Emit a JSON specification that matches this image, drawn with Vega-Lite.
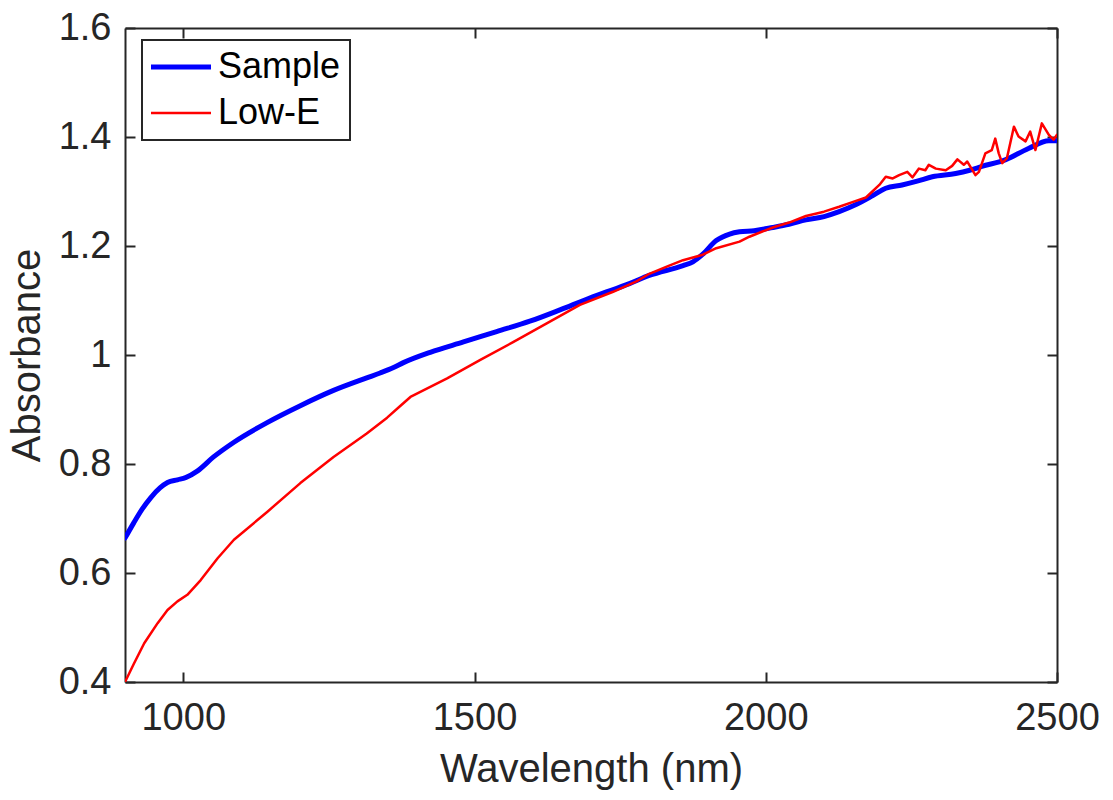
{
  "$schema": "https://vega.github.io/schema/vega-lite/v6.json",
  "width": 932,
  "height": 654,
  "autosize": {"type": "none"},
  "padding": {"left": 125, "top": 28, "right": 56, "bottom": 118},
  "background": "white",
  "config": {
    "view": {"stroke": null},
    "font": "Liberation Sans",
    "axis": {
      "labelFont": "Liberation Sans",
      "titleFont": "Liberation Sans",
      "labelFontSize": 38,
      "titleFontSize": 40,
      "labelColor": "#262626",
      "titleColor": "#262626",
      "titleFontWeight": "normal",
      "domainColor": "#262626",
      "domainWidth": 2,
      "tickColor": "#262626",
      "tickWidth": 2,
      "tickSize": -10,
      "grid": false
    },
    "legend": {
      "labelFont": "Liberation Sans",
      "strokeColor": "#262626",
      "strokeWidth": 2
    }
  },
  "datasets": {
    "spectra": [
      {"series": "Sample", "w": 900, "a": 0.664},
      {"series": "Sample", "w": 915, "a": 0.692},
      {"series": "Sample", "w": 930, "a": 0.718},
      {"series": "Sample", "w": 944, "a": 0.738},
      {"series": "Sample", "w": 960, "a": 0.756},
      {"series": "Sample", "w": 973, "a": 0.766},
      {"series": "Sample", "w": 990, "a": 0.771},
      {"series": "Sample", "w": 1004, "a": 0.775},
      {"series": "Sample", "w": 1024, "a": 0.787},
      {"series": "Sample", "w": 1052, "a": 0.813},
      {"series": "Sample", "w": 1087, "a": 0.840},
      {"series": "Sample", "w": 1144, "a": 0.876},
      {"series": "Sample", "w": 1201, "a": 0.907},
      {"series": "Sample", "w": 1258, "a": 0.935},
      {"series": "Sample", "w": 1315, "a": 0.958},
      {"series": "Sample", "w": 1338, "a": 0.967},
      {"series": "Sample", "w": 1361, "a": 0.977},
      {"series": "Sample", "w": 1378, "a": 0.986},
      {"series": "Sample", "w": 1424, "a": 1.005},
      {"series": "Sample", "w": 1481, "a": 1.024},
      {"series": "Sample", "w": 1538, "a": 1.043},
      {"series": "Sample", "w": 1595, "a": 1.062},
      {"series": "Sample", "w": 1652, "a": 1.085},
      {"series": "Sample", "w": 1709, "a": 1.109},
      {"series": "Sample", "w": 1766, "a": 1.131},
      {"series": "Sample", "w": 1800, "a": 1.146},
      {"series": "Sample", "w": 1858, "a": 1.164},
      {"series": "Sample", "w": 1875, "a": 1.171},
      {"series": "Sample", "w": 1892, "a": 1.185},
      {"series": "Sample", "w": 1915, "a": 1.210},
      {"series": "Sample", "w": 1938, "a": 1.222},
      {"series": "Sample", "w": 1955, "a": 1.226},
      {"series": "Sample", "w": 1980, "a": 1.228},
      {"series": "Sample", "w": 2012, "a": 1.234},
      {"series": "Sample", "w": 2040, "a": 1.240},
      {"series": "Sample", "w": 2069, "a": 1.248},
      {"series": "Sample", "w": 2100, "a": 1.254},
      {"series": "Sample", "w": 2126, "a": 1.263},
      {"series": "Sample", "w": 2155, "a": 1.276},
      {"series": "Sample", "w": 2183, "a": 1.292},
      {"series": "Sample", "w": 2206, "a": 1.306},
      {"series": "Sample", "w": 2234, "a": 1.312},
      {"series": "Sample", "w": 2260, "a": 1.319},
      {"series": "Sample", "w": 2286, "a": 1.327},
      {"series": "Sample", "w": 2326, "a": 1.333},
      {"series": "Sample", "w": 2350, "a": 1.339},
      {"series": "Sample", "w": 2371, "a": 1.346},
      {"series": "Sample", "w": 2411, "a": 1.358},
      {"series": "Sample", "w": 2451, "a": 1.379},
      {"series": "Sample", "w": 2486, "a": 1.393},
      {"series": "Sample", "w": 2500, "a": 1.393},
      {"series": "Low-E", "w": 900, "a": 0.400},
      {"series": "Low-E", "w": 915, "a": 0.433},
      {"series": "Low-E", "w": 933, "a": 0.471},
      {"series": "Low-E", "w": 956, "a": 0.508},
      {"series": "Low-E", "w": 973, "a": 0.532},
      {"series": "Low-E", "w": 990, "a": 0.548},
      {"series": "Low-E", "w": 1007, "a": 0.560},
      {"series": "Low-E", "w": 1030, "a": 0.587},
      {"series": "Low-E", "w": 1059, "a": 0.627},
      {"series": "Low-E", "w": 1087, "a": 0.661},
      {"series": "Low-E", "w": 1144, "a": 0.712},
      {"series": "Low-E", "w": 1201, "a": 0.765},
      {"series": "Low-E", "w": 1258, "a": 0.813},
      {"series": "Low-E", "w": 1315, "a": 0.856},
      {"series": "Low-E", "w": 1350, "a": 0.885},
      {"series": "Low-E", "w": 1372, "a": 0.906},
      {"series": "Low-E", "w": 1390, "a": 0.923},
      {"series": "Low-E", "w": 1453, "a": 0.957},
      {"series": "Low-E", "w": 1510, "a": 0.991},
      {"series": "Low-E", "w": 1567, "a": 1.024},
      {"series": "Low-E", "w": 1624, "a": 1.058},
      {"series": "Low-E", "w": 1681, "a": 1.092},
      {"series": "Low-E", "w": 1738, "a": 1.116},
      {"series": "Low-E", "w": 1778, "a": 1.135},
      {"series": "Low-E", "w": 1800, "a": 1.149},
      {"series": "Low-E", "w": 1830, "a": 1.162},
      {"series": "Low-E", "w": 1858, "a": 1.174},
      {"series": "Low-E", "w": 1892, "a": 1.184},
      {"series": "Low-E", "w": 1915, "a": 1.196},
      {"series": "Low-E", "w": 1955, "a": 1.208},
      {"series": "Low-E", "w": 1972, "a": 1.217},
      {"series": "Low-E", "w": 2012, "a": 1.234},
      {"series": "Low-E", "w": 2040, "a": 1.243},
      {"series": "Low-E", "w": 2069, "a": 1.255},
      {"series": "Low-E", "w": 2100, "a": 1.263},
      {"series": "Low-E", "w": 2126, "a": 1.272},
      {"series": "Low-E", "w": 2150, "a": 1.281},
      {"series": "Low-E", "w": 2172, "a": 1.289},
      {"series": "Low-E", "w": 2183, "a": 1.300},
      {"series": "Low-E", "w": 2195, "a": 1.312},
      {"series": "Low-E", "w": 2206, "a": 1.327},
      {"series": "Low-E", "w": 2218, "a": 1.324},
      {"series": "Low-E", "w": 2229, "a": 1.330},
      {"series": "Low-E", "w": 2243, "a": 1.336},
      {"series": "Low-E", "w": 2252, "a": 1.326},
      {"series": "Low-E", "w": 2263, "a": 1.342},
      {"series": "Low-E", "w": 2274, "a": 1.339},
      {"series": "Low-E", "w": 2280, "a": 1.349},
      {"series": "Low-E", "w": 2292, "a": 1.342},
      {"series": "Low-E", "w": 2309, "a": 1.339},
      {"series": "Low-E", "w": 2320, "a": 1.347},
      {"series": "Low-E", "w": 2329, "a": 1.359},
      {"series": "Low-E", "w": 2340, "a": 1.349},
      {"series": "Low-E", "w": 2346, "a": 1.355},
      {"series": "Low-E", "w": 2360, "a": 1.330},
      {"series": "Low-E", "w": 2366, "a": 1.336},
      {"series": "Low-E", "w": 2377, "a": 1.370},
      {"series": "Low-E", "w": 2388, "a": 1.376},
      {"series": "Low-E", "w": 2394, "a": 1.397},
      {"series": "Low-E", "w": 2400, "a": 1.370},
      {"series": "Low-E", "w": 2406, "a": 1.352},
      {"series": "Low-E", "w": 2414, "a": 1.361},
      {"series": "Low-E", "w": 2426, "a": 1.419},
      {"series": "Low-E", "w": 2434, "a": 1.401},
      {"series": "Low-E", "w": 2446, "a": 1.392},
      {"series": "Low-E", "w": 2454, "a": 1.410},
      {"series": "Low-E", "w": 2463, "a": 1.376},
      {"series": "Low-E", "w": 2474, "a": 1.425},
      {"series": "Low-E", "w": 2486, "a": 1.404},
      {"series": "Low-E", "w": 2494, "a": 1.395},
      {"series": "Low-E", "w": 2500, "a": 1.404}
    ]
  },
  "data": {"name": "spectra"},
  "layer": [
    {
      "transform": [{"filter": "datum.series === 'Sample'"}],
      "mark": {"type": "line", "interpolate": "monotone", "strokeCap": "round", "strokeJoin": "round", "clip": true},
      "encoding": {
        "x": {
          "field": "w", "type": "quantitative",
          "scale": {"domain": [900, 2500], "nice": false, "zero": false},
          "axis": {"title": "Wavelength (nm)", "values": [1000, 1500, 2000, 2500], "format": "d", "labelPadding": 27, "titlePadding": 12, "labelFlush": false}
        },
        "y": {
          "field": "a", "type": "quantitative",
          "scale": {"domain": [0.4, 1.6], "nice": false, "zero": false},
          "axis": {"title": "Absorbance", "values": [0.4, 0.6, 0.8, 1, 1.2, 1.4, 1.6], "format": "~g", "labelPadding": 24, "titlePadding": 11, "labelFlush": false}
        },
        "color": {
          "field": "series", "type": "nominal",
          "scale": {"domain": ["Sample", "Low-E"], "range": ["#0000ff", "#ff0000"]},
          "legend": {
            "title": null,
            "orient": "none",
            "legendX": 17,
            "legendY": 12,
            "symbolType": "M-3,0H7",
            "symbolSize": 144,
            "labelFontSize": 36,
            "labelColor": "#000000",
            "labelOffset": 31,
            "padding": 9,
            "rowPadding": 10,
            "fillColor": "white",
            "cornerRadius": 0
          }
        },
        "strokeWidth": {
          "field": "series", "type": "nominal",
          "scale": {"domain": ["Sample", "Low-E"], "range": [5, 2.5]},
          "legend": null
        }
      }
    },
    {
      "transform": [{"filter": "datum.series === 'Low-E'"}],
      "mark": {"type": "line", "strokeCap": "round", "strokeJoin": "round", "clip": true},
      "encoding": {
        "x": {
          "field": "w", "type": "quantitative",
          "axis": {"orient": "top", "title": null, "labels": false, "values": [1000, 1500, 2000, 2500]}
        },
        "y": {
          "field": "a", "type": "quantitative",
          "axis": {"orient": "right", "title": null, "labels": false, "values": [0.4, 0.6, 0.8, 1, 1.2, 1.4, 1.6]}
        },
        "color": {"field": "series", "type": "nominal"},
        "strokeWidth": {"field": "series", "type": "nominal"}
      }
    }
  ],
  "resolve": {"axis": {"x": "independent", "y": "independent"}}
}
